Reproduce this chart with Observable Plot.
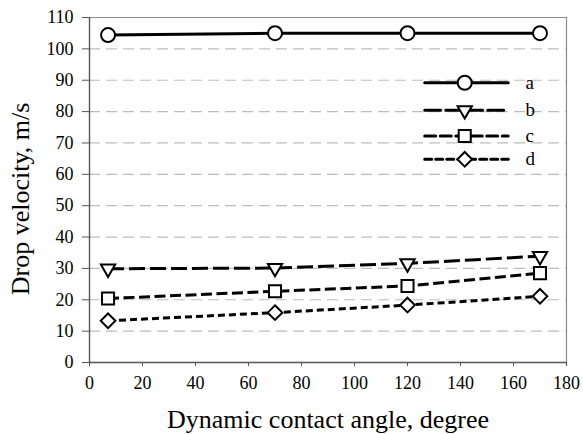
<!DOCTYPE html>
<html>
<head>
<meta charset="utf-8">
<script src="https://cdn.jsdelivr.net/npm/d3@7"></script>
<script src="https://cdn.jsdelivr.net/npm/@observablehq/plot@0.6"></script>
<style>
  html, body { margin: 0; padding: 0; background: #fff; }
  #chart { width: 583px; height: 434px; }
</style>
</head>
<body>
<div id="chart"></div>
<script>
// ---- data ----
const angles = [7, 70, 120, 170];
const seriesNames = ["a", "b", "c", "d"];
const velA = [104.4, 105.0, 105.0, 105.0];
const velB = [29.9, 30.1, 31.6, 33.9];
const velC = [20.4, 22.7, 24.4, 28.5];
const velD = [13.3, 15.9, 18.3, 21.1];
const xTicks = [0, 20, 40, 60, 80, 100, 120, 140, 160, 180];
const yTicks = [0, 10, 20, 30, 40, 50, 60, 70, 80, 90, 100, 110];
const xTitle = "Dynamic contact angle, degree";
const yTitle = "Drop velocity, m/s";

// ---- styles per series ----
const style = {
  a: {dash: null, symbol: "circle", r: 7, rotate: 0},
  b: {dash: "16,5", symbol: "triangle", r: 5.3, rotate: 180},
  c: {dash: "11,4.5", symbol: "square", r: 6.8, rotate: 0},
  d: {dash: "7,4", symbol: "diamond2", r: 6.6, rotate: 0}
};

const allVals = {a: velA, b: velB, c: velC, d: velD};
const table = seriesNames.flatMap(s => angles.map((x, i) => ({s, x, y: allVals[s][i]})));

// legend placement (in data units)
const legendY = {a: 89.2, b: 80.4, c: 72.2, d: 64.8};
const legendX0 = 126.5, legendX1 = 158, legendXm = 141.6, legendXt = 164.5;

const FONT = "'Liberation Serif', 'Times New Roman', serif";

const marks = [
  Plot.gridY(yTicks.filter(v => v > 0 && v < 110), {stroke: "#bdbdbd", strokeOpacity: 1, strokeWidth: 1.2, strokeDasharray: "11,6"}),
  Plot.ruleY([110], {stroke: "#8a8a8a", strokeWidth: 1.2}),
  Plot.ruleX([180], {stroke: "#8a8a8a", strokeWidth: 1.2}),
  Plot.axisY({ticks: yTicks, tickSize: 7, tickPadding: 9, label: null, fontSize: 18, fontFamily: FONT, fontVariant: "normal", stroke: "#555", fill: "#000", tickFormat: d => String(d)}),
  Plot.axisX({ticks: xTicks, tickSize: 4, tickPadding: 10, label: null, fontSize: 18, fontFamily: FONT, fontVariant: "normal", stroke: "#555", fill: "#000", tickFormat: d => String(d)}),
  Plot.ruleX([0], {stroke: "#555", strokeWidth: 1.4}),
  Plot.ruleY([0], {stroke: "#555", strokeWidth: 1.4})
];

for (const s of seriesNames) {
  const st = style[s];
  const rows = table.filter(d => d.s === s);
  marks.push(Plot.line(rows, {x: "x", y: "y", stroke: "#000", strokeWidth: 3, strokeDasharray: st.dash, strokeLinecap: "butt"}));
  marks.push(Plot.dot(rows, {x: "x", y: "y", symbol: () => st.symbol, r: st.r, rotate: st.rotate, fill: "#fff", stroke: "#000", strokeWidth: 2}));
  // legend
  const ly = legendY[s];
  marks.push(Plot.line([{x: legendX0, y: ly}, {x: legendX1, y: ly}], {x: "x", y: "y", stroke: "#000", strokeWidth: 3, strokeDasharray: st.dash}));
  marks.push(Plot.dot([{x: legendXm, y: ly}], {x: "x", y: "y", symbol: () => st.symbol, r: st.r, rotate: st.rotate, fill: "#fff", stroke: "#000", strokeWidth: 2}));
  marks.push(Plot.text([{x: legendXt, y: ly, t: s}], {x: "x", y: "y", text: "t", textAnchor: "start", fontSize: 19, fontFamily: FONT, fill: "#000"}));
}

marks.push(Plot.text([xTitle], {frameAnchor: "bottom", textAnchor: "middle", lineAnchor: "middle", dy: 57, fontSize: 26, fontFamily: FONT, fill: "#000"}));
marks.push(Plot.text([yTitle], {frameAnchor: "left", textAnchor: "middle", lineAnchor: "middle", dx: -69, dy: 9, rotate: -90, fontSize: 26, fontFamily: FONT, fill: "#000"}));

const chart = Plot.plot({
  width: 583,
  height: 434,
  marginLeft: 89,
  marginRight: 17,
  marginTop: 17,
  marginBottom: 72,
  style: {fontFamily: FONT, background: "#fff", color: "#000", overflow: "visible"},
  x: {domain: [0, 180]},
  y: {domain: [0, 110]},
  marks
});
document.getElementById("chart").appendChild(chart);
</script>
</body>
</html>
